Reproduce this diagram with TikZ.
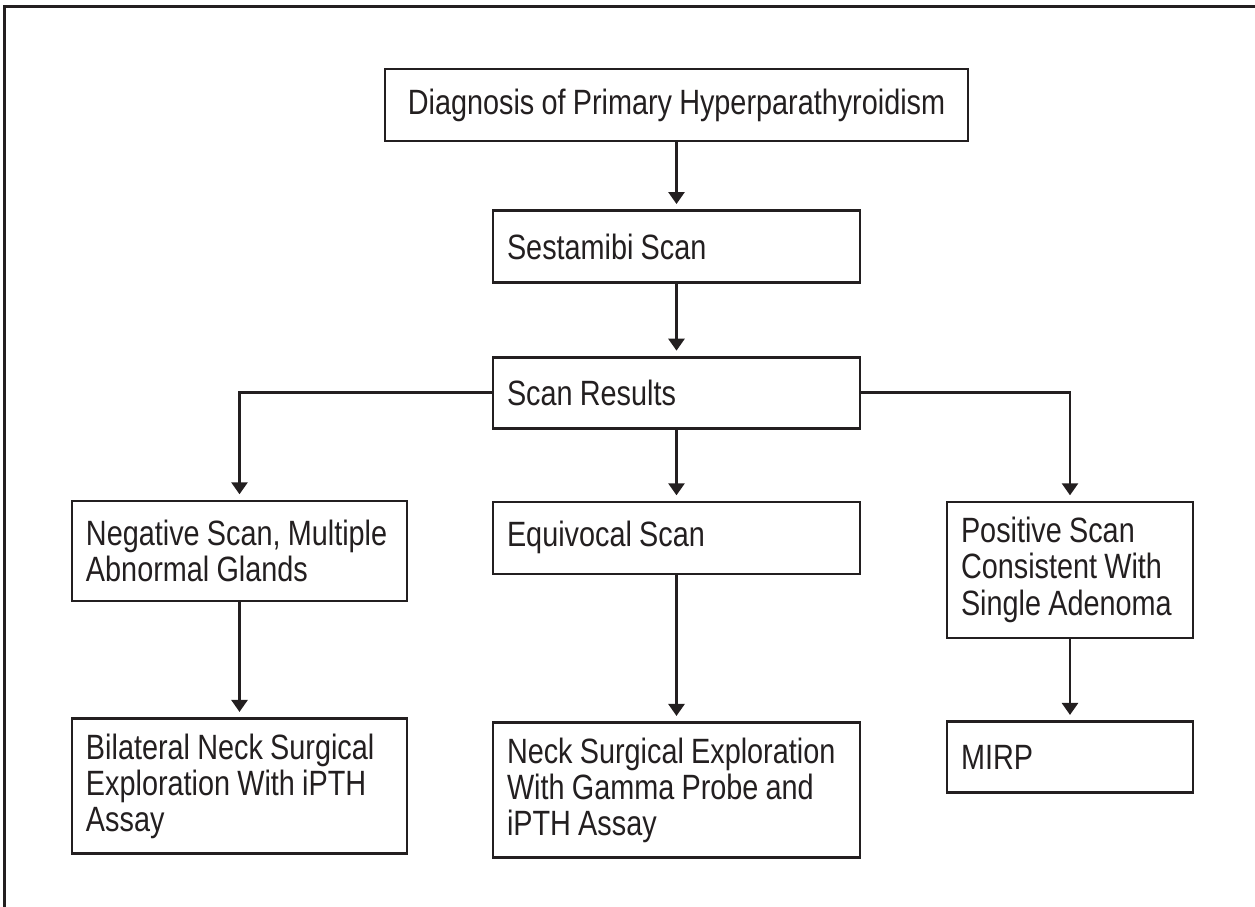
\documentclass[tikz,border=0pt]{standalone}
\usepackage{fontspec}
\setmainfont{Liberation Sans}[FakeStretch=0.82,WordSpace=0.9]
\usetikzlibrary{arrows.meta,positioning}
\definecolor{ink}{RGB}{35,31,32}

\begin{document}
\begin{tikzpicture}[->,>={Triangle[width=0.32cm,length=0.24cm]},shorten >=3pt,line width=1.5pt,color=ink,
  box/.style={draw,rectangle,inner xsep=0.28cm,inner ysep=0pt,font=\fontsize{20pt}{20.5pt}\selectfont,
    execute at begin node={\raggedright\spaceskip=0pt\xspaceskip=0pt\hyphenpenalty=10000\relax}},
  elbow/.style={to path={-| (\tikztotarget)}}]
  \useasboundingbox (0,0) rectangle (25.1,-18.14);
  \draw[-,shorten >=0pt,line width=0.06cm] (0.08,-18.3) |- (25.3,-0.14);

	  \node[box,minimum width=11.66cm,minimum height=1.44cm] (diag) at (13.53,-2.1) {Diagnosis of Primary Hyperparathyroidism};
	  \node[box,text width=6.78cm,minimum height=1.44cm] (sest) [below=1.34cm of diag] {Sestamibi Scan};
	  \node[box,text width=6.78cm,minimum height=1.42cm] (res) [below=1.44cm of sest] {Scan Results};
	  \node[box,text width=6.78cm,minimum height=1.44cm] (equiv) [below=1.42cm of res] {Equivocal Scan};
	  \node[box,text width=6.14cm,minimum height=2cm] (neg) [below=1.4cm of res,xshift=-8.74cm] {Negative Scan, Multiple\\Abnormal Glands};
	  \node[box,text width=4.36cm,minimum height=2.72cm] (pos) [below=1.42cm of res,xshift=7.87cm] {Positive Scan\\Consistent With\\Single Adenoma};
	  \node[box,text width=6.14cm,minimum height=2.7cm] (bil) [below=2.3cm of neg] {Bilateral Neck Surgical\\Exploration With iPTH\\Assay};
	  \node[box,text width=6.78cm,minimum height=2.7cm] (neck) [below=2.92cm of equiv] {Neck Surgical Exploration\\With Gamma Probe and\\iPTH Assay};
	  \node[box,text width=4.36cm,minimum height=1.42cm] (mirp) [below=1.62cm of pos] {MIRP};
	  \path
(diag) edge (sest)
(sest) edge (res)
(res) edge (equiv)
(res) edge [elbow] (neg)
(res) edge [elbow] (pos)
(neg) edge (bil)
(equiv) edge (neck)
(pos) edge (mirp)
;
	\end{tikzpicture}
\end{document}
